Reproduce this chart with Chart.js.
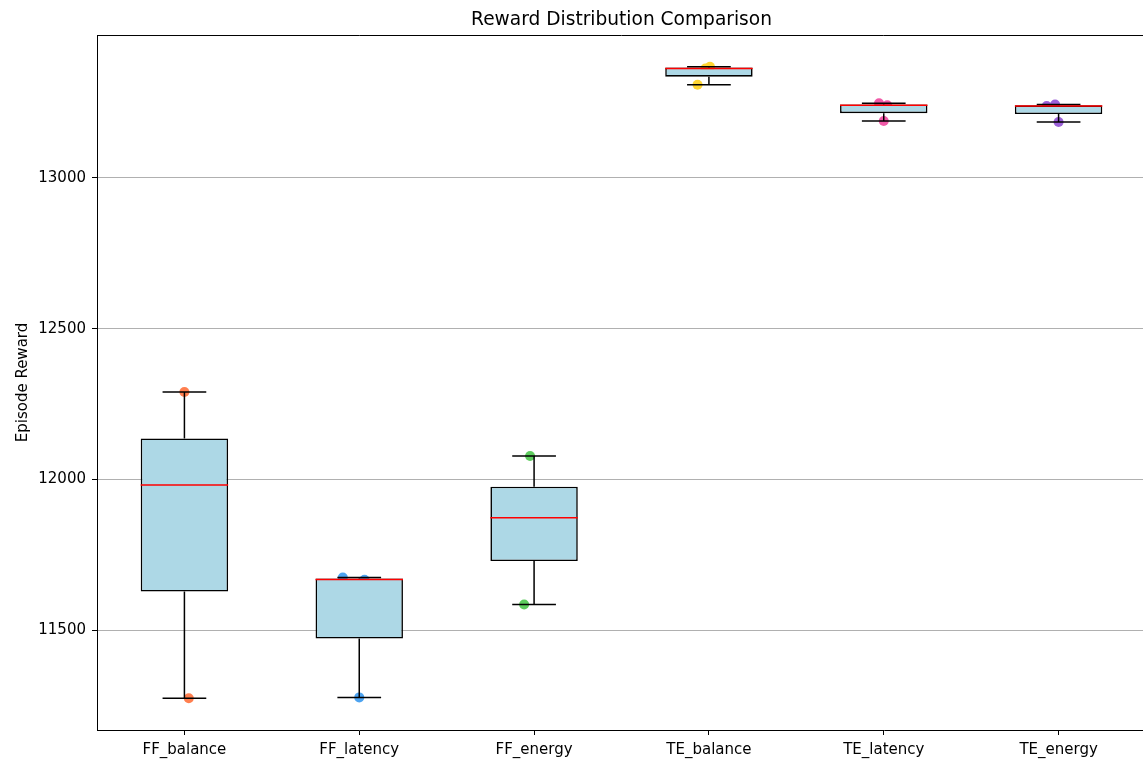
<!DOCTYPE html>
<html>
<head>
<meta charset="utf-8">
<title>Reward Distribution Comparison</title>
<script src="https://cdn.jsdelivr.net/npm/chart.js@4/dist/chart.umd.min.js"></script>
<style>
  html, body { margin: 0; padding: 0; background: #ffffff; overflow: hidden; }
  #wrap { width: 1151px; height: 764px; }
</style>
</head>
<body>
<div id="wrap"><canvas id="chart" width="1151" height="764"></canvas></div>
<script>
// Experiment groups along the x axis
const categories = ['FF_balance', 'FF_latency', 'FF_energy', 'TE_balance', 'TE_latency', 'TE_energy'];

// Box summary per group (episode reward)
const whiskerLow  = [11275, 11278, 11586, 13308, 13188, 13185];
const quartile1   = [11629, 11473, 11730, 13335, 13214, 13211];
const medians     = [11982, 11669, 11873, 13362, 13240, 13238];
const quartile3   = [12136, 11672, 11976, 13365, 13243, 13240];
const whiskerHigh = [12290, 11675, 12078, 13368, 13247, 13243];

// Individual runs drawn under the boxes (with small horizontal jitter)
const runRewards = [
  [12290, 11982, 11275],
  [11675, 11668, 11278],
  [12078, 11873, 11586],
  [13368, 13362, 13308],
  [13247, 13240, 13188],
  [13243, 13238, 13185]
];
const runJitter = [
  [0.000, 0.010, 0.025],
  [-0.094, 0.030, 0.000],
  [-0.023, 0.010, -0.057],
  [0.006, -0.020, -0.065],
  [-0.027, 0.020, 0.000],
  [-0.020, -0.068, 0.000]
];
const runColors = ['#ff7f4f', '#4da3f0', '#5ecc5e', '#ffd634', '#f05aa8', '#9b60d8'];

// Axis ranges and tick labels
const xMin = 0.5;
const xMax = 6.5;
const yMin = 11170;
const yMax = 13473;
const yTicks = [11500, 12000, 12500, 13000];

const FONT = "'DejaVu Sans', 'Liberation Sans', sans-serif";
const BOX_HALF = 0.25;   // half box width in x units
const CAP_HALF = 0.125;  // half whisker-cap width in x units

const datasets = [];

// Scatter of the individual runs (drawn underneath everything)
runRewards.forEach((vals, i) => {
  datasets.push({
    type: 'scatter',
    label: categories[i] + ' runs',
    data: vals.map((v, k) => ({ x: i + 1 + runJitter[i][k], y: v })),
    backgroundColor: runColors[i],
    borderWidth: 0,
    pointRadius: 5,
    pointHoverRadius: 5,
    order: 10
  });
});

// Boxes as floating bars from Q1 to Q3
datasets.push({
  type: 'bar',
  label: 'IQR',
  data: categories.map((c, i) => ({ x: i + 1, y: [quartile1[i], quartile3[i]] })),
  backgroundColor: '#add8e6',
  borderColor: '#000000',
  borderWidth: 1.6,
  borderSkipped: false,
  barPercentage: 0.5,
  categoryPercentage: 1.0,
  order: 5
});

function segment(label, pts, color, order) {
  datasets.push({
    type: 'line',
    label: label,
    data: pts,
    borderColor: color,
    borderWidth: 1.5,
    pointRadius: 0,
    pointHoverRadius: 0,
    fill: false,
    showLine: true,
    tension: 0,
    order: order
  });
}

categories.forEach((c, i) => {
  const x = i + 1;
  segment(c + ' lower whisker', [{ x: x, y: quartile1[i] }, { x: x, y: whiskerLow[i] }], '#000000', 2);
  segment(c + ' upper whisker', [{ x: x, y: quartile3[i] }, { x: x, y: whiskerHigh[i] }], '#000000', 2);
  segment(c + ' lower cap', [{ x: x - CAP_HALF, y: whiskerLow[i] }, { x: x + CAP_HALF, y: whiskerLow[i] }], '#000000', 2);
  segment(c + ' upper cap', [{ x: x - CAP_HALF, y: whiskerHigh[i] }, { x: x + CAP_HALF, y: whiskerHigh[i] }], '#000000', 2);
  segment(c + ' median', [{ x: x - BOX_HALF, y: medians[i] }, { x: x + BOX_HALF, y: medians[i] }], '#ff0000', 0);
});

// Top frame line of the plotting area
const frameTop = {
  id: 'frameTop',
  afterDraw(chart) {
    const { ctx, chartArea } = chart;
    ctx.save();
    ctx.strokeStyle = '#000000';
    ctx.lineWidth = 1;
    ctx.beginPath();
    ctx.moveTo(chartArea.left, chartArea.top + 0.5);
    ctx.lineTo(chartArea.right, chartArea.top + 0.5);
    ctx.stroke();
    ctx.restore();
  }
};

new Chart(document.getElementById('chart'), {
  type: 'scatter',
  data: { datasets: datasets },
  plugins: [frameTop],
  options: {
    responsive: false,
    animation: false,
    events: [],
    layout: { padding: { left: 0, right: 0, top: 0, bottom: 0 } },
    plugins: {
      legend: { display: false },
      tooltip: { enabled: false },
      title: {
        display: true,
        text: 'Reward Distribution Comparison',
        fullSize: false,
        color: '#000000',
        font: { family: FONT, size: 18.6, weight: 'normal', lineHeight: 1.2 },
        padding: { top: 9, bottom: 3.7 }
      }
    },
    scales: {
      x: {
        type: 'linear',
        min: xMin,
        max: xMax,
        offset: false,
        afterBuildTicks(scale) { scale.ticks = categories.map((c, i) => ({ value: i + 1 })); },
        afterFit(scale) { scale.height = 34; },
        border: { display: true, color: '#000000', width: 1 },
        grid: {
          offset: false,
          drawOnChartArea: false,
          drawTicks: true,
          tickLength: 5,
          tickColor: '#000000',
          tickWidth: 1
        },
        ticks: {
          autoSkip: false,
          maxRotation: 0,
          padding: 6,
          color: '#000000',
          font: { family: FONT, size: 15 },
          callback: (v) => categories[Math.round(v) - 1] || ''
        }
      },
      y: {
        type: 'linear',
        min: yMin,
        max: yMax,
        beginAtZero: false,
        afterBuildTicks(scale) { scale.ticks = yTicks.map(v => ({ value: v })); },
        afterFit(scale) { scale.width = 97; },
        border: { display: true, color: '#000000', width: 1 },
        grid: {
          color: '#b0b0b0',
          lineWidth: 1,
          drawTicks: true,
          tickLength: 5,
          tickColor: '#000000',
          tickWidth: 1
        },
        ticks: {
          autoSkip: false,
          padding: 6,
          color: '#000000',
          font: { family: FONT, size: 15 },
          callback: (v) => String(v)
        },
        title: {
          display: true,
          text: 'Episode Reward',
          color: '#000000',
          font: { family: FONT, size: 15 },
          padding: { top: 14, bottom: 0 }
        }
      }
    }
  }
});
</script>
</body>
</html>
